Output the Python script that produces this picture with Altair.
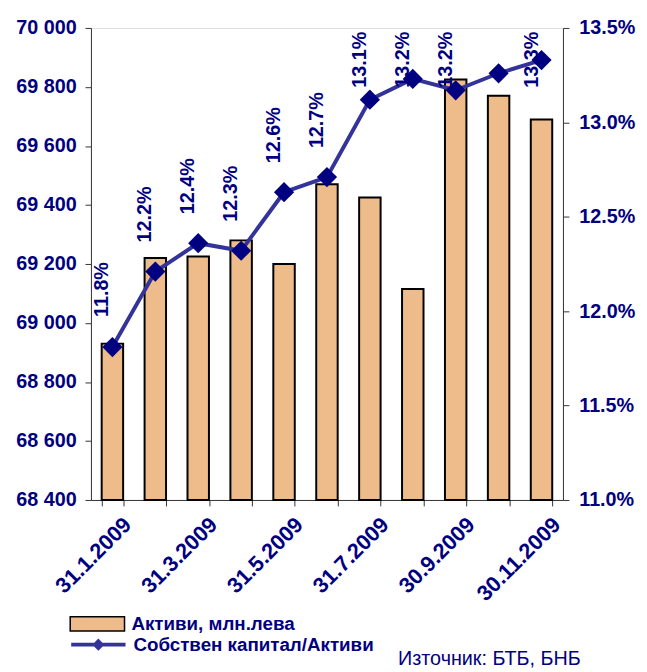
import altair as alt
import pandas as pd

months = ["31.1.2009", "28.2.2009", "31.3.2009", "30.4.2009", "31.5.2009", "30.6.2009",
          "31.7.2009", "31.8.2009", "30.9.2009", "31.10.2009", "30.11.2009"]
assets = [68930, 69220, 69225, 69280, 69200, 69470, 69425, 69115, 69825, 69770, 69690]
ratio = [0.1181, 0.1221, 0.1236, 0.1232, 0.1263, 0.1271, 0.1312, 0.1323, 0.1317, 0.1326, 0.1333]
show_label = [True, True, True, True, True, True, True, True, True, False, True]
shown_months = ["31.1.2009", "31.3.2009", "31.5.2009", "31.7.2009", "30.9.2009", "30.11.2009"]

s_bar = "Активи, млн.лева"
s_line = "Собствен капитал/Активи"
source = "Източник: БТБ, БНБ"

NAVY = "#000080"
LINE = "#333399"
BAR = "#EEBB8A"
FONT = "Liberation Sans"

df = pd.DataFrame({"month": months, "assets": assets, "ratio": ratio, "show": show_label})
df["s1"] = s_bar
df["s2"] = s_line

shown_js = "[" + ",".join("'" + m + "'" for m in shown_months) + "]"

x = alt.X("month:N", sort=months, title=None,
          scale=alt.Scale(paddingInner=0.5, paddingOuter=0.25),
          axis=alt.Axis(labelAngle=-45, labelExpr=f"indexof({shown_js}, datum.value) >= 0 ? datum.value : ''",
                        tickBand="extent", tickSize=6, labelFontSize=22, labelFont=FONT,
                        labelFontWeight="bold", labelColor=NAVY, domainColor="#333333",
                        tickColor="#333333", labelPadding=8, labelOffset=8))

base = alt.Chart(df)

bars = base.mark_bar(stroke="black", strokeWidth=2).encode(
    x=x,
    y=alt.Y("assets:Q", title=None,
            scale=alt.Scale(domain=[68400, 70000], nice=False, zero=False, clamp=True),
            axis=alt.Axis(values=list(range(68400, 70001, 200)), orient="left",
                          labelExpr="replace(format(datum.value, ','), ',', ' ')",
                          labelFontSize=20, labelFont=FONT, labelFontWeight="bold",
                          labelColor=NAVY, grid=False, tickSize=6, labelPadding=9,
                          domainColor="#333333", tickColor="#333333")),
    fill=alt.Fill("s1:N", title=None,
                  scale=alt.Scale(domain=[s_bar], range=[BAR]),
                  legend=alt.Legend(orient="none", legendX=-22, legendY=575,
                                    symbolType="M-1,-0.26H1V0.26H-1Z", symbolSize=3025,
                                    symbolStrokeColor="black", symbolStrokeWidth=1.5,
                                    labelFontSize=19, labelFont=FONT, labelFontWeight="bold",
                                    labelColor=NAVY, labelLimit=0, padding=0, labelOffset=6)),
)

yr_scale = alt.Scale(domain=[0.11, 0.135], nice=False, zero=False)
yr_axis = alt.Axis(values=[0.11, 0.115, 0.12, 0.125, 0.13, 0.135], orient="right", format=".1%",
                   labelFontSize=20, labelFont=FONT, labelFontWeight="bold", labelColor=NAVY,
                   grid=False, tickSize=6, labelPadding=10,
                   domainColor="#333333", tickColor="#333333")

line = base.mark_line(strokeWidth=4).encode(
    x=x,
    y=alt.Y("ratio:Q", title=None, scale=yr_scale, axis=yr_axis),
    stroke=alt.Stroke("s2:N", title=None,
                      scale=alt.Scale(domain=[s_line], range=[LINE]),
                      legend=alt.Legend(orient="none", legendX=-22, legendY=595,
                                        symbolType="M-1,0H1M0,-0.12L0.12,0L0,0.12L-0.12,0Z",
                                        symbolSize=3025, symbolStrokeWidth=4,
                                        symbolFillColor=NAVY,
                                        labelFontSize=19, labelFont=FONT, labelFontWeight="bold",
                                        labelColor=NAVY, labelLimit=0, padding=0, labelOffset=6)),
)

points = base.mark_point(shape="diamond", size=420, filled=True, color=NAVY, opacity=1).encode(
    x=x, y=alt.Y("ratio:Q", scale=yr_scale, axis=None))

labels = base.transform_filter("datum.show").transform_calculate(
    top="min(datum.ratio + 0.0045, 0.1348)"
).mark_text(angle=270, align="right", baseline="middle", dy=-10, fontSize=20,
            font=FONT, fontWeight="bold", color=NAVY).encode(
    x=x, y=alt.Y("top:Q", scale=yr_scale, axis=None),
    text=alt.Text("ratio:Q", format=".1%"))

src = alt.Chart(alt.Data(values=[{"t": source}])).mark_text(
    align="left", baseline="alphabetic", fontSize=20, font=FONT, color=NAVY
).encode(x=alt.value(311), y=alt.value(645), text="t:N")

chart = alt.layer(bars, line, points, labels, src).resolve_scale(
    y="independent", fill="independent", stroke="independent"
).properties(
    width=478, height=478,
    autosize=alt.AutoSizeParams(type="none"),
    padding={"left": 84, "top": 16, "right": 77, "bottom": 170},
).configure_view(stroke=None).configure(background="white")

chart.save("out.html", embed_options={"renderer": "svg", "actions": False})
